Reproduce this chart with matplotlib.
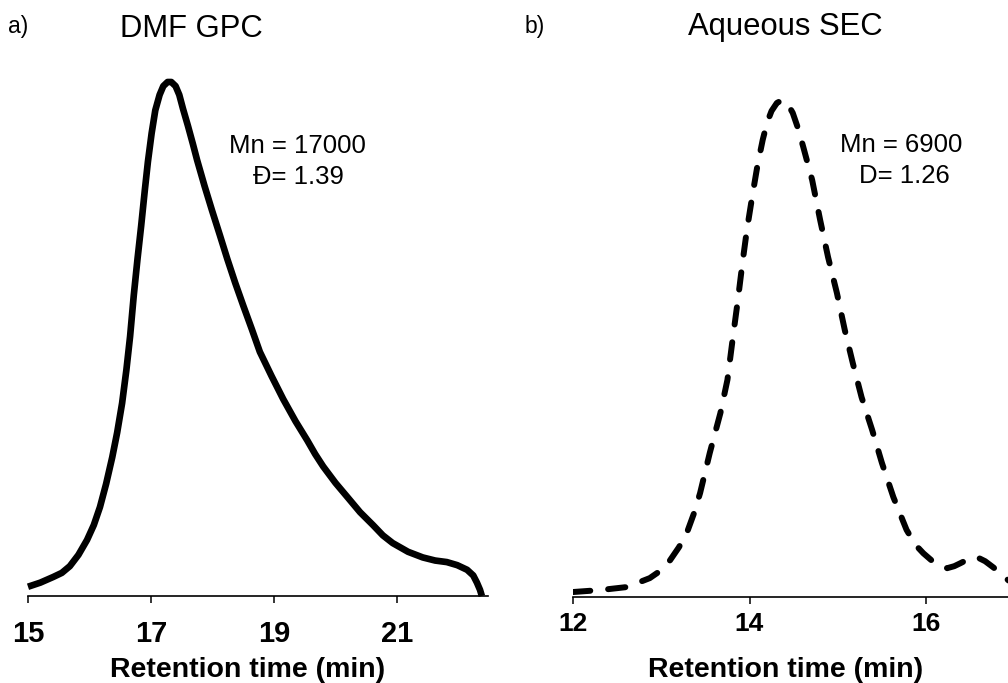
import matplotlib
matplotlib.use('Agg')
import matplotlib.pyplot as plt

plt.rcParams['font.family'] = ['Liberation Sans', 'DejaVu Sans']

# DMF GPC trace (retention time in min, normalised RI signal)
dmf_time = [15.00, 15.20, 15.41, 15.55, 15.68, 15.82, 15.96, 16.07, 16.17, 16.27,
            16.37, 16.45, 16.53, 16.60, 16.66, 16.72, 16.78, 16.84, 16.90, 16.95,
            17.01, 17.07, 17.14, 17.20, 17.27, 17.33, 17.40, 17.46, 17.52, 17.60,
            17.68, 17.75, 17.87, 17.99, 18.12, 18.24, 18.37, 18.50, 18.64, 18.77,
            18.96, 19.15, 19.35, 19.54, 19.67, 19.80, 20.00, 20.19, 20.40, 20.61,
            20.77, 20.93, 21.18, 21.42, 21.62, 21.81, 21.98, 22.14, 22.24, 22.30,
            22.35, 22.38]
dmf_signal = [0.018, 0.026, 0.037, 0.045, 0.058, 0.080, 0.109, 0.138, 0.173, 0.218,
              0.270, 0.318, 0.375, 0.440, 0.505, 0.585, 0.655, 0.720, 0.790, 0.845,
              0.900, 0.945, 0.975, 0.992, 1.000, 1.000, 0.992, 0.975, 0.948, 0.915,
              0.880, 0.848, 0.798, 0.751, 0.702, 0.656, 0.609, 0.565, 0.519, 0.475,
              0.428, 0.383, 0.340, 0.303, 0.276, 0.252, 0.220, 0.193, 0.163, 0.138,
              0.118, 0.103, 0.086, 0.075, 0.069, 0.066, 0.060, 0.051, 0.040, 0.026,
              0.012, 0.000]

# Aqueous SEC trace
sec_time = [12.00, 12.31, 12.61, 12.87, 13.00, 13.10, 13.20, 13.29, 13.37, 13.44,
            13.55, 13.67, 13.75, 13.81, 13.87, 13.92, 13.97, 14.03, 14.09, 14.15,
            14.20, 14.25, 14.31, 14.37, 14.43, 14.49, 14.55, 14.61, 14.71, 14.80,
            14.89, 14.99, 15.08, 15.17, 15.27, 15.39, 15.50, 15.63, 15.78, 15.88,
            15.97, 16.10, 16.24, 16.32, 16.39, 16.50, 16.58, 16.67, 16.76, 16.85,
            16.93, 17.10]
sec_signal = [0.010, 0.014, 0.020, 0.038, 0.054, 0.074, 0.100, 0.129, 0.168, 0.209,
              0.290, 0.370, 0.437, 0.520, 0.600, 0.672, 0.738, 0.805, 0.868, 0.920,
              0.955, 0.978, 0.994, 1.000, 0.993, 0.974, 0.943, 0.905, 0.839, 0.759,
              0.684, 0.612, 0.537, 0.471, 0.402, 0.336, 0.270, 0.201, 0.135, 0.105,
              0.088, 0.068, 0.058, 0.062, 0.068, 0.078, 0.080, 0.072, 0.060, 0.047,
              0.034, 0.015]

dmf_ticks = [15, 17, 19, 21]
sec_ticks = [12, 14, 16]

W, H = 1008, 683
fig = plt.figure(figsize=(W / 100, H / 100), dpi=100)


def fx(x):
    return x / W


def fy(y):
    return 1 - y / H


def style_axis(ax, ticks, size, pad):
    for s in ['left', 'right', 'top']:
        ax.spines[s].set_visible(False)
    ax.spines['bottom'].set_linewidth(1.2)
    ax.set_yticks([])
    ax.set_xticks(ticks)
    ax.tick_params(axis='x', direction='out', length=5, width=1.1,
                   labelsize=size, pad=pad)
    for lab in ax.get_xticklabels():
        lab.set_fontweight('bold')


# a) DMF GPC
ax1 = fig.add_axes([fx(28), fy(596), fx(488) - fx(28), fy(60) - fy(596)])
ax1.plot(dmf_time, dmf_signal, color='black', linewidth=4.8,
         solid_capstyle='butt', solid_joinstyle='round', clip_on=False)
ax1.set_xlim(15, 22.48)
ax1.set_ylim(0, 536 / 514)
style_axis(ax1, dmf_ticks, 21, 12)
ax1.set_xlabel('Retention time (min)', fontsize=20.5, fontweight='bold')
ax1.xaxis.label.set_va('baseline')
ax1.xaxis.set_label_coords(fx(248), fy(677), transform=fig.transFigure)

# b) Aqueous SEC
ax2 = fig.add_axes([fx(573), fy(597), 1 - fx(573), fy(60) - fy(597)])
ax2.plot(sec_time, sec_signal, color='black', linewidth=4.3,
         linestyle=(0, (2.9, 3.0)), dash_capstyle='round')
ax2.set_xlim(12, 12 + (W - 573) / 88.25)
ax2.set_ylim(0, 537 / 497)
style_axis(ax2, sec_ticks, 19, 6)
ax2.set_xlabel('Retention time (min)', fontsize=20.5, fontweight='bold')
ax2.xaxis.label.set_va('baseline')
ax2.xaxis.set_label_coords(fx(786), fy(677), transform=fig.transFigure)

# panel letters and titles
fig.text(fx(8), fy(33), 'a)', fontsize=16.5, va='baseline')
fig.text(fx(120), fy(37), 'DMF GPC', fontsize=22.3, va='baseline')
fig.text(fx(525), fy(33), 'b)', fontsize=16.5, va='baseline')
fig.text(fx(688), fy(35), 'Aqueous SEC', fontsize=22.3, va='baseline')

# molecular weight annotations
fig.text(fx(297), fy(153), 'Mn = 17000', fontsize=18.5, ha='center', va='baseline')
fig.text(fx(298), fy(184), 'Đ= 1.39', fontsize=18.5, ha='center', va='baseline')
fig.text(fx(901), fy(152), 'Mn = 6900', fontsize=18.5, ha='center', va='baseline')
fig.text(fx(904), fy(183), 'D= 1.26', fontsize=18.5, ha='center', va='baseline')

fig.savefig('out.png', dpi=100)
